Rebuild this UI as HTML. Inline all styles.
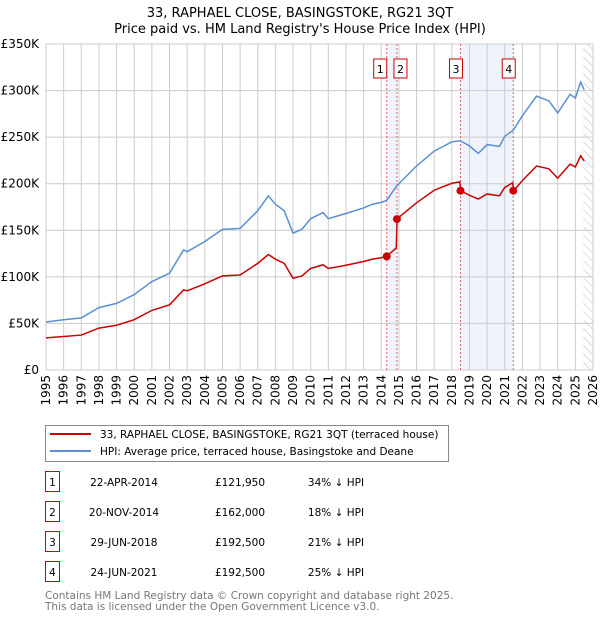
<!DOCTYPE html>
<html><head><meta charset="utf-8"><style>
body{margin:0;background:#fff;font-family:"Liberation Sans","DejaVu Sans",sans-serif;}
svg text{font-family:"DejaVu Sans","Liberation Sans",sans-serif;}
</style></head><body>
<svg id="c" width="600" height="620" xmlns="http://www.w3.org/2000/svg">
<defs><pattern id="hatch" width="6" height="6" patternUnits="userSpaceOnUse" patternTransform="rotate(-45)"><line x1="0" y1="0" x2="0" y2="6" stroke="#bbb" stroke-width="1"/></pattern></defs>
<text x="300" y="17" text-anchor="middle" font-size="13">33, RAPHAEL CLOSE, BASINGSTOKE, RG21 3QT</text>
<text x="300" y="33" text-anchor="middle" font-size="13">Price paid vs. HM Land Registry's House Price Index (HPI)</text>
<g id="plot"></g>
<g>
<rect x="45.5" y="425.5" width="403" height="36" fill="#fff" stroke="#888"/>
<line x1="50" y1="434" x2="91" y2="434" stroke="#cc0000" stroke-width="2"/>
<text x="100" y="438" font-size="10.5">33, RAPHAEL CLOSE, BASINGSTOKE, RG21 3QT (terraced house)</text>
<line x1="50" y1="451" x2="91" y2="451" stroke="#5b8fd4" stroke-width="2"/>
<text x="100" y="455" font-size="10.5">HPI: Average price, terraced house, Basingstoke and Deane</text>
</g>
<g id="table" font-size="11"></g>
<text x="45" y="599" font-size="10.5" fill="#777">Contains HM Land Registry data © Crown copyright and database right 2025.</text>
<text x="45" y="610" font-size="10.5" fill="#777">This data is licensed under the Open Government Licence v3.0.</text>
</svg>
<script>
const dates=[1995,1996,1997,1998,1999,2000,2001,2002,2002.8,2003,2004,2005,2006,2007,2007.6,2008,2008.5,2009,2009.5,2010,2010.7,2011,2012,2013,2013.5,2014,2014.3,2014.85,2014.9,2015,2016,2017,2018,2018.45,2018.5,2019,2019.5,2020,2020.7,2021,2021.45,2021.5,2022,2022.8,2023.5,2024,2024.7,2025,2025.3,2025.5];
const hpiValues=[51.5,54,56,67,71.5,81,95,104,129,127,138,151,152,171,187,178,171,147,151,162.5,169,162.5,168,174,178,180,182,197,198,200,219,235,245,246,246,240.5,232.6,242,240,251,257,258,273,294,289,276,296,292,309,301];
const priceValues=[34.5,36,37.5,45,48,54,64,70,86,85,92.5,101,102,114.5,124,119,114.5,98.5,101,109,113,109,112.5,116.5,119,120.5,122,131,162,164,179.5,193,200.5,202,192.5,187.5,183.5,189,187,196,201,192.5,203.5,219,216,206,221,218,230,224.5];
const saleDates=[2014.31,2014.89,2018.49,2021.48];
const salePrices=[121.95,162,192.5,192.5];
const saleLabels=["1","2","3","4"];
const saleDateText=["22-APR-2014","20-NOV-2014","29-JUN-2018","24-JUN-2021"];
const salePriceText=["£121,950","£162,000","£192,500","£192,500"];
const saleHpiText=["34% ↓ HPI","18% ↓ HPI","21% ↓ HPI","25% ↓ HPI"];
const yTicks=[0,50,100,150,200,250,300,350];
const xTicks=[];for(let y=1995;y<=2026;y++)xTicks.push(y);
const X0=46,X1=593,Y0=370,Y1=44;
const sx=d=>X0+(d-1995)/(2026-1995)*(X1-X0);
const sy=v=>Y0-v/350*(Y0-Y1);
const NS="http://www.w3.org/2000/svg";
const g=document.getElementById('plot');
function mk(tag,attrs,parent){const e=document.createElementNS(NS,tag);for(const k in attrs)e.setAttribute(k,attrs[k]);(parent||g).appendChild(e);return e;}
let s=mk('rect',{x:sx(saleDates[0]),y:Y1,width:sx(saleDates[1])-sx(saleDates[0]),height:Y0-Y1,fill:'#eef3fc'});


s=mk('rect',{x:sx(saleDates[2]),y:Y1,width:sx(saleDates[3])-sx(saleDates[2]),height:Y0-Y1,fill:'#eef3fc'});


s=mk('rect',{x:sx(2025.45),y:Y1,width:X1-sx(2025.45),height:Y0-Y1,fill:'url(#hatch)'});


xTicks.forEach(t=>{const l=mk('line',{x1:sx(t),x2:sx(t),y1:Y1,y2:Y0,stroke:'#ccc','stroke-width':1});


const tx=mk('text',{x:0,y:0,'font-size':12,'text-anchor':'end',transform:`translate(${sx(t)+4},${Y0+5}) rotate(-90)`});tx.textContent=t;

});
yTicks.forEach(t=>{const l=mk('line',{x1:X0,x2:X1,y1:sy(t),y2:sy(t),stroke:'#ccc','stroke-width':1});


const tx=mk('text',{x:X0-7,y:sy(t)+4,'font-size':12,'text-anchor':'end'});tx.textContent=t===0?'£0':'£'+t+'K';

});
const border=mk('line',{x1:X0,x2:X0,y1:Y1,y2:Y0,stroke:'#ccc'});


saleDates.forEach((d,i)=>{const l=mk('line',{x1:sx(d),x2:sx(d),y1:Y1,y2:Y0,stroke:'#e06060','stroke-dasharray':'2,2','stroke-width':1});


const bx=i===1?sx(d)+1:(i===0?sx(d)-9:sx(d)-7);
const r=mk('rect',{x:bx-4,y:59,width:13,height:19,fill:'#fff',stroke:'#cc0000'});


const tx=mk('text',{x:bx+2.5,y:73,'font-size':11,'text-anchor':'middle'});tx.textContent=saleLabels[i];

});
const hp=mk('polyline',{points:dates.map((d,i)=>sx(d)+','+sy(hpiValues[i])).join(' '),fill:'none',stroke:'#5b8fd4','stroke-width':1.5});


const pp=mk('polyline',{points:dates.map((d,i)=>sx(d)+','+sy(priceValues[i])).join(' '),fill:'none',stroke:'#cc0000','stroke-width':1.5});


saleDates.forEach((d,i)=>{const c=mk('circle',{cx:sx(d),cy:sy(salePrices[i]),r:4,fill:'#cc0000'});

});
const tb=document.getElementById('table');
saleLabels.forEach((l,i)=>{const y=483+i*30;
const r=mk('rect',{x:45.5,y:y-11.5,width:14,height:20,fill:'#fff',stroke:'#cc0000'},tb);


[[52.5,l],[124,saleDateText[i]],[240,salePriceText[i]],[336,saleHpiText[i]]].forEach(([x,t])=>{
const tx=mk('text',{x:x,y:y+3,'text-anchor':'middle','font-size':10.5},tb);tx.textContent=t;

});});
</script>
</body></html>
